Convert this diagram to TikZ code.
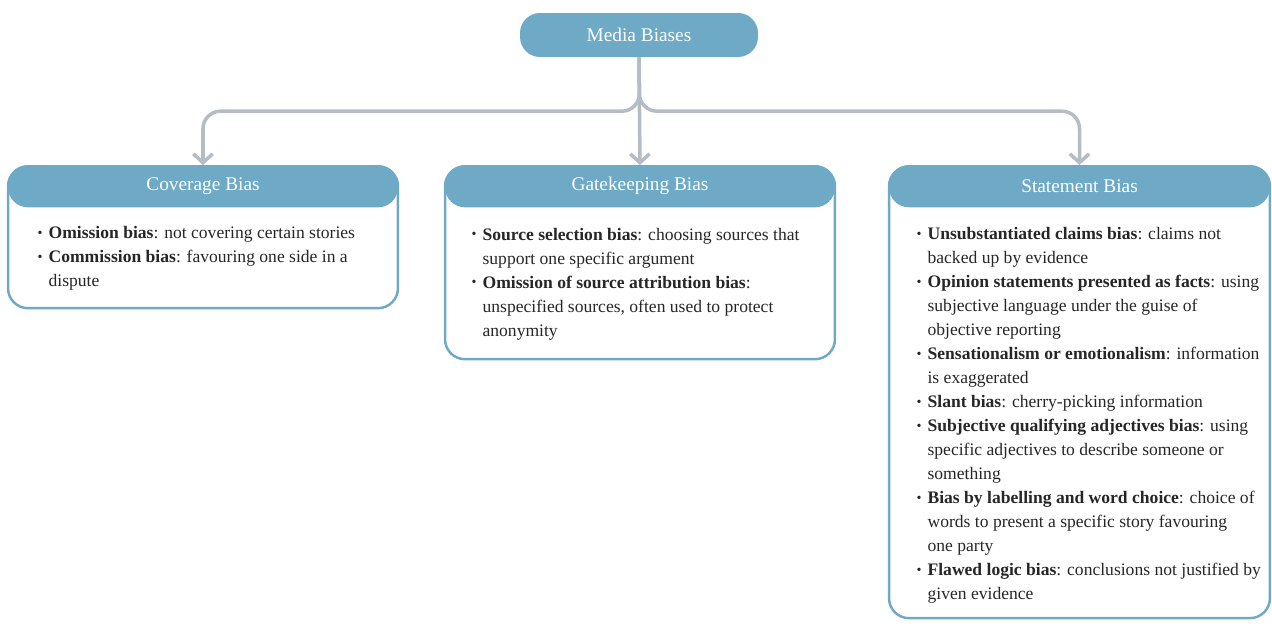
\documentclass[tikz,border=0pt]{standalone}
\usepackage{fontspec}
\setmainfont{Liberation Serif}
\usetikzlibrary{arrows.meta,calc}
\definecolor{biasblue}{HTML}{6EAAC6}
\definecolor{linkgrey}{HTML}{B4BDC5}
\newcommand{\bias}[2]{\llap{\raisebox{0.2ex}{\footnotesize\textbullet}\hspace{3.5pt}}\textbf{#1}: #2}
\begin{document}
\begin{tikzpicture}[x=0.02cm,y=-0.02cm,
  head/.style={fill=biasblue,rounded corners=0.4cm,text=white,font=\fontsize{11}{13}\selectfont,
    minimum height=0.84cm,inner sep=0pt,anchor=north},
  boxline/.style={draw=biasblue,line width=1.4pt,rounded corners=0.4cm,anchor=north,inner sep=0pt},
  itemtext/.style={align=left,inner sep=0pt,anchor=west,text=black!85,font=\fontsize{10}{13.66}\selectfont},
  link/.style={draw=linkgrey,line width=2pt,rounded corners=0.35cm,-{Straight Barb[length=5pt,width=11pt]}}]
\useasboundingbox (0,0) rectangle (1272,623);
% root
\node[head,anchor=center,minimum width=4.76cm,minimum height=0.88cm] (media) at (639,35) {Media Biases};
% the three boxes
\node[boxline,minimum width=7.8cm,minimum height=2.84cm] (covbox) at (203,165) {};
\node[head,minimum width=7.8cm] (covhead) at (covbox.north) {Coverage Bias};
\node[itemtext] (covtext) at ($(covhead.south west)!0.5!(covbox.south west)+(41,0)$)
  {\bias{Omission bias}{not covering certain stories}\\
   \bias{Commission bias}{favouring one side in a\\ dispute}};

\node[boxline,minimum width=7.8cm,minimum height=3.86cm] (gatebox) at (640,165) {};
\node[head,minimum width=7.8cm] (gatehead) at (gatebox.north) {Gatekeeping Bias};
\node[itemtext] (gatetext) at ($(gatehead.south west)!0.5!(gatebox.south west)+(38,0)$)
  {\bias{Source selection bias}{choosing sources that\\ support one specific argument}\\
   \bias{Omission of source attribution bias}{\\ unspecified sources, often used to protect\\ anonymity}};

\node[boxline,minimum width=7.62cm,minimum height=9.04cm] (statbox) at (1079.5,165) {};
\node[head,minimum width=7.62cm] (stathead) at (statbox.north) {Statement Bias};
\node[itemtext] (stattext) at ($(stathead.south west)!0.5!(statbox.south west)+(39,2)$)
  {\bias{Unsubstantiated claims bias}{claims not\\ backed up by evidence}\\
   \bias{Opinion statements presented as facts}{using\\ subjective language under the guise of\\ objective reporting}\\
   \bias{Sensationalism or emotionalism}{information\\ is exaggerated}\\
   \bias{Slant bias}{cherry-picking information}\\
   \bias{Subjective qualifying adjectives bias}{using\\ specific adjectives to describe someone or\\ something}\\
   \bias{Bias by labelling and word choice}{choice of\\ words to present a specific story favouring\\ one party}\\
   \bias{Flawed logic bias}{conclusions not justified by\\ given evidence}};
% connectors
\coordinate (fork) at ($(media.south)!0.5!(gatehead.north)$);
\draw[link] (media.south) -- (gatehead.north);
\draw[link] (media.south) -- (fork) -| (covhead.north);
\draw[link] (media.south) -- (fork) -| (stathead.north);
\end{tikzpicture}
\end{document}
